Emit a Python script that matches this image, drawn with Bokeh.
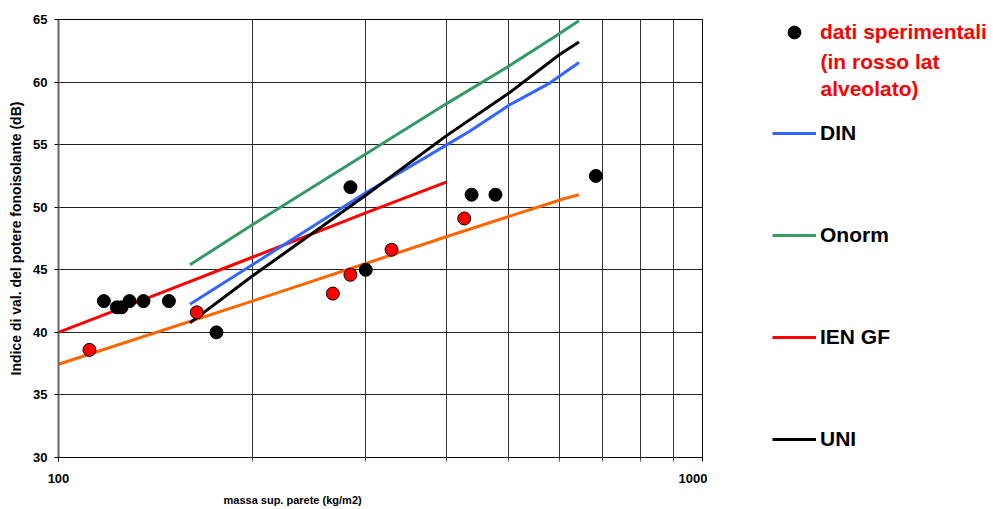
from bokeh.plotting import figure
from bokeh.layouts import row
from bokeh.models import (FixedTicker, Legend, LegendItem, Label, Range1d,
                          NumeralTickFormatter, Title)
from bokeh.embed import file_html
from bokeh.resources import INLINE

# ---- data ----
# experimental data, black points
exp_black_mass = [117.6, 123.2, 125.3, 128.9, 135.5, 148.4, 175.9, 284, 300, 438, 477, 683]
exp_black_R = [42.5, 42.0, 42.0, 42.5, 42.5, 42.5, 40.0, 51.6, 45.0, 51.0, 51.0, 52.5]
# experimental data, red points (laterizio alveolato)
exp_red_mass = [111.7, 164, 266.7, 284, 329, 426.6]
exp_red_R = [38.6, 41.6, 43.1, 44.6, 46.6, 49.1]

din_mass = [160, 200, 300, 400, 435, 500, 580, 643]
din_R = [42.25, 45.4, 51.15, 54.96, 56.07, 58.13, 59.94, 61.56]

onorm_mass = [160, 200, 300, 400, 500, 586, 643]
onorm_R = [45.4, 48.6, 54.25, 58.26, 61.27, 63.54, 64.9]

ien_mass = [100, 150, 200, 300, 400]
ien_R = [40.0, 43.5, 46.0, 49.55, 52.0]

uni_mass = [160, 200, 300, 400, 500, 600, 643]
uni_R = [40.76, 44.5, 50.95, 55.7, 59.1, 62.2, 63.2]

orange_mass = [100, 200, 237, 300, 400, 611, 643]
orange_R = [37.45, 42.5, 43.75, 45.5, 47.64, 50.7, 51.0]

x_major = [100, 1000]
x_minor = [200, 300, 400, 500, 600, 700, 800, 900]
y_ticks = [30, 35, 40, 45, 50, 55, 60, 65]

FONT = "Liberation Sans"
C_DIN, C_ONORM, C_IEN, C_UNI, C_OR = "#3366FF", "#339966", "#FF0000", "black", "#FF6600"

p = figure(x_axis_type="log", x_range=Range1d(100, 1000), y_range=Range1d(30, 65),
           frame_width=644, frame_height=438,
           min_border_left=58, min_border_right=5, min_border_top=19, min_border_bottom=20,
           output_backend="svg", toolbar_location=None)
p.background_fill_color = "white"
p.border_fill_color = "white"
p.outline_line_color = "black"

# axes
p.xaxis.ticker = FixedTicker(ticks=x_major, minor_ticks=x_minor)
p.xaxis.formatter = NumeralTickFormatter(format="0")
p.yaxis.ticker = FixedTicker(ticks=y_ticks)
for ax in (p.xaxis[0], p.yaxis[0]):
    ax.major_label_text_font = FONT
    ax.major_label_text_font_style = "bold"
    ax.major_label_text_font_size = "13px"
    ax.major_label_text_color = "black"
    ax.major_tick_in = 0
    ax.major_tick_out = 4
    ax.major_tick_line_color = "black"
p.xaxis.minor_tick_in = 0
p.xaxis.minor_tick_out = 4
p.xaxis.minor_tick_line_color = "#555555"
p.yaxis.minor_tick_line_color = None
p.xaxis.axis_line_color = "black"
p.yaxis.axis_line_color = "#666666"
p.yaxis.axis_line_width = 2
p.xaxis.major_label_standoff = 12
p.yaxis.major_label_standoff = 7

p.yaxis.axis_label = "Indice di val. del potere fonoisolante (dB)"
p.yaxis.axis_label_text_font = FONT
p.yaxis.axis_label_text_font_style = "bold"
p.yaxis.axis_label_text_font_size = "14px"
p.yaxis.axis_label_text_color = "black"
p.yaxis.axis_label_standoff = 6

p.add_layout(Title(text="massa sup. parete (kg/m2)", align="left", offset=165,
                   text_font=FONT, text_font_style="bold", text_font_size="11px",
                   text_color="black", standoff=12), "below")

# grids
p.xgrid.grid_line_color = "#333333"
p.xgrid.minor_grid_line_color = "#333333"
p.ygrid.grid_line_color = "#222222"

# lines
lw = 3
p.line(orange_mass, orange_R, line_width=lw, color=C_OR)
p.line(ien_mass, ien_R, line_width=lw, color=C_IEN)
p.line(onorm_mass, onorm_R, line_width=lw, color=C_ONORM)
p.line(din_mass, din_R, line_width=lw, color=C_DIN)
p.line(uni_mass, uni_R, line_width=lw, color=C_UNI)

# points
p.scatter(exp_red_mass, exp_red_R, size=13, fill_color="#FF0000", line_color="black", line_width=1)
p.scatter(exp_black_mass, exp_black_R, size=13, fill_color="black", line_color="black")

# ---- legend panel (separate figure on the right, frame aligned with the plot) ----
QH = 511
FB = 457  # page y of this panel's frame bottom
q = figure(width=280, height=QH, x_range=Range1d(0, 1), y_range=Range1d(0, 1),
           min_border=0, x_axis_location=None, y_axis_location=None,
           output_backend="svg", toolbar_location=None)
q.grid.visible = False
q.outline_line_color = None
q.background_fill_color = "white"
q.border_fill_color = "white"

# legend proxies: same data, lying outside this panel's ranges (not visible)
k_dot = q.scatter(exp_black_mass, exp_black_R, size=13, fill_color="black", line_color="black")
k_din = q.line(din_mass, din_R, line_width=lw, color=C_DIN)
k_onorm = q.line(onorm_mass, onorm_R, line_width=lw, color=C_ONORM)
k_ien = q.line(ien_mass, ien_R, line_width=lw, color=C_IEN)
k_uni = q.line(uni_mass, uni_R, line_width=lw, color=C_UNI)

leg_a = Legend(items=[LegendItem(label="dati sperimentali", renderers=[k_dot])],
               location=(65, FB - 48), glyph_width=44, glyph_height=32, label_standoff=4,
               label_text_font=FONT, label_text_font_style="bold", label_text_font_size="21px",
               label_text_color="#FF0000", padding=0, margin=0, border_line_color=None,
               background_fill_alpha=0, label_text_baseline="middle")
leg_b = Legend(items=[LegendItem(label="DIN", renderers=[k_din]),
                      LegendItem(label="Onorm", renderers=[k_onorm]),
                      LegendItem(label="IEN GF", renderers=[k_ien]),
                      LegendItem(label="UNI", renderers=[k_uni])],
               location=(65, FB - 451), glyph_width=44, glyph_height=20, label_height=20,
               label_standoff=4, spacing=78,
               label_text_font=FONT, label_text_font_style="bold", label_text_font_size="21px",
               label_text_color="black", padding=0, margin=0, border_line_color=None,
               background_fill_alpha=0, label_text_baseline="middle")
q.add_layout(leg_a)
q.add_layout(leg_b)

for txt, py in (("(in rosso lat", 61), ("alveolato)", 88)):
    q.add_layout(Label(x=113, y=FB - py, x_units="screen", y_units="screen", text=txt,
                       text_font=FONT, text_font_style="bold", text_font_size="21px",
                       text_color="#FF0000", text_baseline="middle", text_align="left"))

layout = row(p, q, spacing=0)
open("out.html", "w").write(file_html(layout, INLINE))
